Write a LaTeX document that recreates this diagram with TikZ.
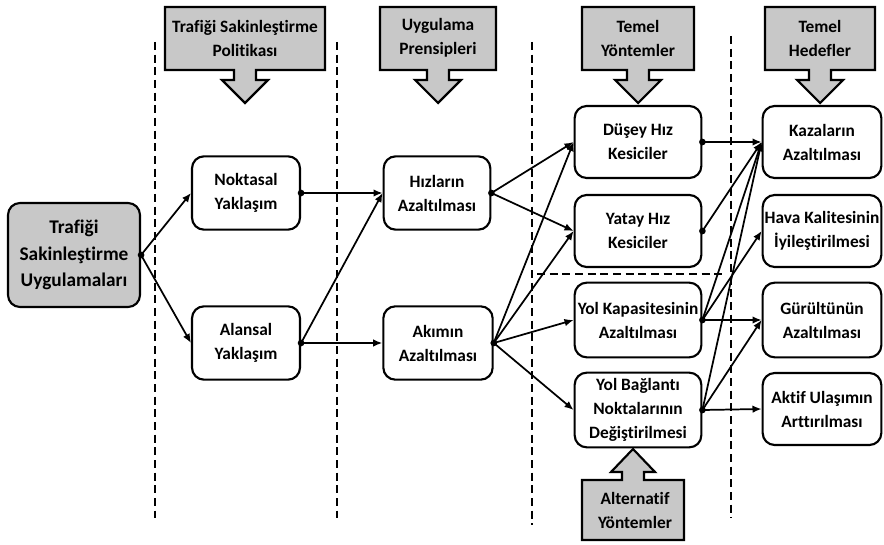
\documentclass[tikz,border=0pt]{standalone}
\usepackage{fontspec}
\setmainfont{Carlito}[Ligatures={NoCommon,NoRequired}]
\usepackage{tikz}
\usetikzlibrary{arrows.meta,positioning,calc}
\usepackage{xcolor}
\definecolor{tagfill}{RGB}{200,200,200}
\tikzset{
  stage/.style   = {draw, line width=1.6pt, rounded corners=9pt, fill=white,
                    align=center, inner sep=1pt, minimum width=95pt,
                    minimum height=54pt},
  origin/.style  = {stage, fill=tagfill, minimum width=99pt, minimum height=78pt,
                    font=\bfseries\fontsize{14.5}{20}\selectfont},
  pickoff/.style = {fill, circle, inner sep=0pt, minimum size=5pt},
  sig/.style     = {-{Latex[length=2.4mm,width=2mm]}, line width=1.3pt},
  divider/.style = {line width=1.3pt, dash pattern=on 6pt off 3.5pt},
  tagline/.style = {draw, fill=tagfill, line width=1.6pt},
  tagtext/.style = {align=center, inner sep=0pt},
}
\newcommand{\downtag}[4]{%
  \draw[tagline] (#2-#3,7) -- (#2+#3,7) -- (#2+#3,70) -- (#2+11,70) -- (#2+11,80)
    -- (#2+23,80) -- (#2,103) -- (#2-23,80) -- (#2-11,80) -- (#2-11,70)
    -- (#2-#3,70) -- cycle;
  \node[tagtext] (#1) at (#2,38) {#4};}
\newcommand{\uptag}[4]{%
  \draw[tagline] (#2-#3,540) -- (#2+#3,540) -- (#2+#3,480) -- (#2+11,480) -- (#2+11,472)
    -- (#2+22,472) -- (#2,449) -- (#2-22,472) -- (#2-11,472) -- (#2-11,480)
    -- (#2-#3,480) -- cycle;
  \node[tagtext] (#1) at (#2+2,510) {#4};}

\begin{document}
\begin{tikzpicture}[x=0.75pt,y=-0.75pt,font=\bfseries\fontsize{13}{18}\selectfont]
\useasboundingbox (0,0) rectangle (884,545);
\draw[divider] (155,42) -- (155,518); \draw[divider] (337,42) -- (337,518);
\draw[divider] (532,42) -- (532,525); \draw[divider] (731,36) -- (731,518);
\draw[divider] (537,274) -- (725,274);
\downtag{politika}{245}{80}{Trafiği Sakinleştirme\\Politikası}
\downtag{prensip}{438}{58}{Uygulama\\Prensipleri}
\downtag{yontem}{638}{56}{Temel\\Yöntemler}
\downtag{hedef}{820}{55}{Temel\\Hedefler}
\uptag{alternatif}{633}{51}{Alternatif\\Yöntemler}
\node[origin] (tsu) at (74,255) {Trafiği\\Sakinleştirme\\Uygulamaları};
\node[stage,minimum width=81pt,minimum height=55pt] (nokta) at (246,193) {Noktasal\\Yaklaşım};
\node[stage,minimum width=81pt,minimum height=55pt] (alan) at (246,343) {Alansal\\Yaklaşım};
\node[stage,minimum width=80pt,minimum height=55pt] (hiz) at (437,193) {Hızların\\Azaltılması};
\node[stage,minimum width=82pt,minimum height=55pt] (akim) at (438,343) {Akımın\\Azaltılması};
\node[stage] (dusey) at (638,142) {Düşey Hız\\Kesiciler};
\node[stage] (yatay) at (638,231) {Yatay Hız\\Kesiciler};
\node[stage,minimum height=56pt] (ykap) at (638,320) {Yol Kapasitesinin\\Azaltılması};
\node[stage,minimum height=56pt] (ybag) at (638,410) {Yol Bağlantı\\Noktalarının\\Değiştirilmesi};
\node[stage,minimum width=89pt] (kaz) at (822,142) {Kazaların\\Azaltılması};
\node[stage,minimum width=89pt] (hava) at (822,231) {Hava Kalitesinin\\İyileştirilmesi};
\node[stage,minimum width=89pt,minimum height=56pt] (gurul) at (822,320) {Gürültünün\\Azaltılması};
\node[stage,minimum width=89pt] (aktif) at (822,409) {Aktif Ulaşımın\\Arttırılması};
\node[pickoff] (tsu-o) at (tsu.east) {};
\node[pickoff] (nokta-o) at (nokta.east) {};
\node[pickoff] (alan-o) at (alan.east) {};
\node[pickoff] (hiz-o) at (hiz.east) {};
\node[pickoff] (akim-o) at (akim.east) {};
\node[pickoff] (dusey-o) at (dusey.east) {};
\node[pickoff] (yatay-o) at (yatay.east) {};
\node[pickoff] (ykap-o) at (ykap.east) {};
\node[pickoff] (ybag-o) at (ybag.east) {};
\draw[sig] (tsu-o.center) -- (nokta.west); \draw[sig] (tsu-o.center) -- (alan.west);
\draw[sig] (nokta-o.center) -- (hiz.west);
\draw[sig] (alan-o.center) -- (hiz.west); \draw[sig] (alan-o.center) -- (akim.west);
\draw[sig] (hiz-o.center) -- (dusey.west); \draw[sig] (hiz-o.center) -- (yatay.west);
\draw[sig] (akim-o.center) -- (dusey.west); \draw[sig] (akim-o.center) -- (yatay.west);
\draw[sig] (akim-o.center) -- (ykap.west); \draw[sig] (akim-o.center) -- (ybag.west);
\draw[sig] (dusey-o.center) -- (kaz.west);
\draw[sig] (yatay-o.center) -- (kaz.west);
\draw[sig] (ykap-o.center) -- (kaz.west); \draw[sig] (ykap-o.center) -- (hava.west);
\draw[sig] (ykap-o.center) -- (gurul.west);
\draw[sig] (ybag-o.center) -- (kaz.west); \draw[sig] (ybag-o.center) -- (gurul.west);
\draw[sig] (ybag-o.center) -- (aktif.west);
\end{tikzpicture}
\end{document}
